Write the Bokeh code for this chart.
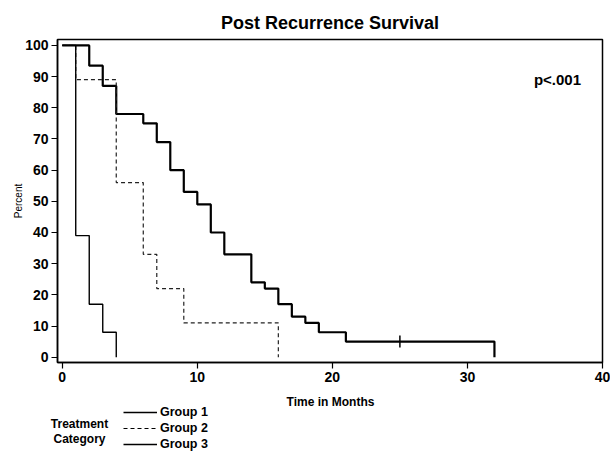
from bokeh.plotting import figure
from bokeh.layouts import column
from bokeh.models import Range1d, FixedTicker, Legend, LegendItem, Label
from bokeh.embed import file_html
from bokeh.resources import INLINE
import math

# Kaplan-Meier step data (time in months, percent surviving)
g1_time = [0, 2, 3, 4, 6, 7, 8, 9, 10, 11, 12, 14, 15, 16, 17, 18, 19, 21, 32]
g1_surv = [100, 93.5, 87, 78, 75, 69, 60, 53, 49, 40, 33, 24, 22, 17, 13, 11, 8, 5, 0]
g2_time = [0, 1, 4, 6, 7, 9, 16]
g2_surv = [100, 89, 56, 33, 22, 11, 0]
g3_time = [0, 1, 2, 3, 4]
g3_surv = [100, 39, 17, 8, 0]
g1_censor_time = [25]
g1_censor_surv = [5]

group_labels = ["Group 1", "Group 2", "Group 3"]
x_ticks = [0, 10, 20, 30, 40]
y_ticks = [0, 10, 20, 30, 40, 50, 60, 70, 80, 90, 100]

FONT = "Liberation Sans"

p = figure(width=610, height=390, output_backend="svg", toolbar_location=None,
           x_range=Range1d(-0.35, 40), y_range=Range1d(-1.7, 101.9),
           min_border_left=57, min_border_right=8, min_border_top=39,
           min_border_bottom=28, title="Post Recurrence Survival")

p.title.align = "center"
p.title.text_font = FONT
p.title.text_font_size = "18px"
p.title.text_font_style = "bold"
p.title.text_color = "black"
p.title.standoff = 14

p.grid.visible = False
p.outline_line_color = "black"
p.outline_line_width = 1.5
p.outline_line_alpha = 1.0
p.background_fill_color = "white"
p.border_fill_color = "white"

for ax in (p.xaxis[0], p.yaxis[0]):
    ax.axis_line_color = "black"
    ax.axis_line_width = 1.5
    ax.major_tick_line_color = "black"
    ax.major_tick_line_width = 1.2
    ax.major_tick_in = 0
    ax.major_tick_out = 6
    ax.minor_tick_line_color = None
    ax.major_label_text_font = FONT
    ax.major_label_text_font_size = "14px"
    ax.major_label_text_font_style = "bold"
    ax.major_label_text_color = "black"
    ax.major_label_standoff = 3
    ax.axis_label_text_font = FONT
    ax.axis_label_text_color = "black"

p.xaxis.ticker = FixedTicker(ticks=x_ticks)
p.yaxis.ticker = FixedTicker(ticks=y_ticks)
p.yaxis.axis_label = "Percent"
p.yaxis.axis_label_text_font_size = "10px"
p.yaxis.axis_label_text_font_style = "normal"
p.yaxis.axis_label_standoff = -2

p.step(g1_time, g1_surv, mode="after", line_color="black", line_width=2.2)
p.step(g2_time, g2_surv, mode="after", line_color="#222222", line_width=1.2,
       line_dash="4 3")
p.step(g3_time, g3_surv, mode="after", line_color="black", line_width=1.4)
p.scatter(g1_censor_time, g1_censor_surv, marker="dash", angle=math.pi / 2,
          size=12, line_color="black", line_width=1.5)

p.add_layout(Label(x=500, y=283, x_units="screen", y_units="screen", text="p<.001",
                   text_align="center", text_baseline="middle",
                   text_font=FONT, text_font_size="15px",
                   text_font_style="bold", text_color="black"))

# Lower strip: x-axis title and the legend
q = figure(width=610, height=62, output_backend="svg", toolbar_location=None,
           x_range=Range1d(0, 610), y_range=Range1d(0, 62),
           min_border=0, min_border_left=0, min_border_right=0,
           min_border_top=0, min_border_bottom=0,
           x_axis_location=None, y_axis_location=None)
for fig in (p, q):
    if "frame_align" in fig.properties():
        fig.frame_align = False
q.grid.visible = False
q.outline_line_color = None
q.background_fill_color = "white"
q.border_fill_color = "white"

nan = [math.nan]
l1 = q.line(nan, nan, line_color="black", line_width=1.5)
l2 = q.line(nan, nan, line_color="black", line_width=1.1, line_dash="4 3")
l3 = q.line(nan, nan, line_color="black", line_width=1.6)

legend = Legend(items=[LegendItem(label=group_labels[0], renderers=[l1]),
                       LegendItem(label=group_labels[1], renderers=[l2]),
                       LegendItem(label=group_labels[2], renderers=[l3])],
                location=(123, 0.5), orientation="vertical",
                border_line_color=None, background_fill_alpha=0,
                padding=0, margin=0, spacing=0,
                glyph_width=34, glyph_height=16, label_height=16,
                label_standoff=3,
                label_text_font=FONT, label_text_font_size="12.5px",
                label_text_font_style="bold", label_text_color="black")
q.add_layout(legend, "center")

q.add_layout(Label(x=330, y=51, x_units="screen", y_units="screen",
                   text="Time in Months", text_align="center", text_baseline="middle",
                   text_font=FONT, text_font_size="12px", text_font_style="bold",
                   text_color="black"))

for txt, yy in (("Treatment", 29), ("Category", 14)):
    q.add_layout(Label(x=79, y=yy, x_units="screen", y_units="screen", text=txt,
                       text_align="center", text_baseline="middle",
                       text_font=FONT, text_font_size="12px",
                       text_font_style="bold", text_color="black"))

layout = column(p, q, spacing=0)
open("out.html", "w").write(file_html(layout, INLINE))
